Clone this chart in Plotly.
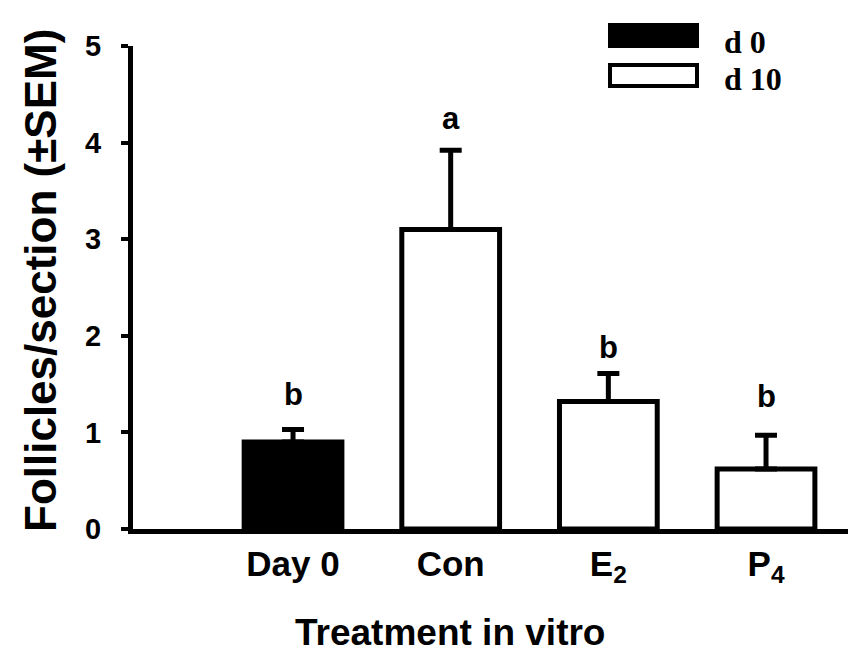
import plotly.graph_objects as go

categories = ["Day 0", "Con", "E2", "P4"]
tick_labels = ["Day 0", "Con", "E<sub>2</sub>", "P<sub>4</sub>"]
means = [0.90, 3.10, 1.32, 0.62]
sems = [0.13, 0.82, 0.29, 0.35]
fill_colors = ["black", "white", "white", "white"]
sig_letters = ["b", "a", "b", "b"]
letter_y = [1.39, 4.25, 1.88, 1.37]
legend_labels = ["d 0", "d 10"]
legend_fills = ["black", "white"]

FONT = "Arial, Liberation Sans, sans-serif"
L, R, T, B = 133, 848, 46, 529
PW, PH = R - L, B - T

def px(x):
    return (x - L) / PW

def py(y):
    return (B - y) / PH

fig = go.Figure()
fig.add_trace(go.Bar(
    x=list(range(len(categories))), y=means,
    width=0.62,
    marker=dict(color=fill_colors, line=dict(color="black", width=5)),
    error_y=dict(type="data", array=sems, arrayminus=[0]*len(sems), symmetric=False,
                 color="black", thickness=5, width=11),
    showlegend=False,
))

for i, (lt, ly) in enumerate(zip(sig_letters, letter_y)):
    fig.add_annotation(x=i, y=ly, text=f"<b>{lt}</b>", showarrow=False,
                       font=dict(family=FONT, size=31, color="black"))

# legend drawn manually
leg_rect = [(25, 46), (65, 86)]
leg_text_y = [42, 79]
for lab, fc, (y0, y1), ty in zip(legend_labels, legend_fills, leg_rect, leg_text_y):
    fig.add_shape(type="rect", xref="paper", yref="paper",
                  x0=px(610), x1=px(697), y0=py(y1), y1=py(y0),
                  fillcolor=fc, line=dict(color="black", width=4))
    fig.add_annotation(xref="paper", yref="paper", x=px(722), y=py(ty),
                       xanchor="left", yanchor="middle", text=f"<b>{lab}</b>", showarrow=False,
                       font=dict(family="Liberation Serif, Times New Roman, serif", size=32, color="black"))

fig.add_annotation(xref="paper", yref="paper", x=px(450), y=py(632),
                   text="<b>Treatment in vitro</b>", showarrow=False, yanchor="middle",
                   font=dict(family=FONT, size=37, color="black"))

fig.add_annotation(xref="paper", yref="paper", x=px(40), y=py(281),
                   text="<b>Follicles/section (±SEM)</b>", showarrow=False, textangle=-90,
                   xanchor="center", yanchor="middle",
                   font=dict(family=FONT, size=44, color="black"))

fig.update_layout(
    width=850, height=662,
    margin=dict(l=L, r=850 - R, t=T, b=662 - B),
    plot_bgcolor="white", paper_bgcolor="white",
    xaxis=dict(range=[-1.015, 3.52], tickmode="array", tickvals=list(range(len(categories))),
               ticktext=[f"<b>{t}</b>" for t in tick_labels], ticks="",
               showline=True, linecolor="black", linewidth=5, showgrid=False, zeroline=False,
               tickfont=dict(family=FONT, size=35, color="black")),
    yaxis=dict(range=[0, 5], tickvals=[0, 1, 2, 3, 4, 5],
               ticktext=["<b>0</b>", "<b>1</b>", "<b>2</b>", "<b>3</b>", "<b>4</b>", "<b>5</b>"],
               ticks="outside", ticklen=7, tickwidth=4, tickcolor="black",
               ticklabelstandoff=14,
               showline=True, linecolor="black", linewidth=5, showgrid=False, zeroline=False,
               tickfont=dict(family=FONT, size=29, color="black")),
)

fig.write_html("out.html")
